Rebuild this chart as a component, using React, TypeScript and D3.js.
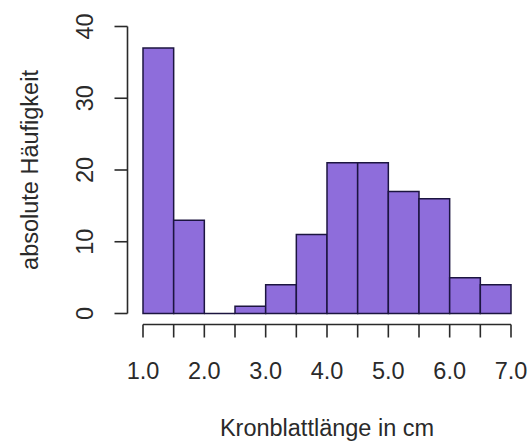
import React from "react";
import * as d3 from "d3";

const breaks = [1.0, 1.5, 2.0, 2.5, 3.0, 3.5, 4.0, 4.5, 5.0, 5.5, 6.0, 6.5, 7.0];
const counts = [37, 13, 0, 1, 4, 11, 21, 21, 17, 16, 5, 4];
const xTicks = [1.0, 1.5, 2.0, 2.5, 3.0, 3.5, 4.0, 4.5, 5.0, 5.5, 6.0, 6.5, 7.0];
const xLabels = [1, 2, 3, 4, 5, 6, 7];
const yTicks = [0, 10, 20, 30, 40];
const xTitle = "Kronblattlänge in cm";
const yTitle = "absolute Häufigkeit";

export default function App() {
  const W = 532, H = 447;
  const x = d3.scaleLinear().domain([1, 7]).range([143, 511]);
  const y = d3.scaleLinear().domain([0, 40]).range([313.5, 26.5]);
  const font = "'Liberation Sans', Arial, Helvetica, sans-serif";
  const fs = 23.5;
  const txt = "#2a2a2a";
  const axisY = 324.5;
  const axisX = 127.5;
  const tickLen = 13;
  const barPath = (i: number) => {
    const p = d3.path();
    p.rect(x(breaks[i]), y(counts[i]), x(breaks[i + 1]) - x(breaks[i]), y(0) - y(counts[i]));
    return p.toString();
  };
  return (
    <svg width={W} height={H} style={{ position: "absolute", left: 0, top: 0, background: "#fff" }}>
      {counts.map((c, i) => (
        <path
          key={i}
          d={barPath(i)}
          fill="#8e6ddb"
          stroke="#1c1540"
          strokeWidth={1.5}
        />
      ))}
      {/* x axis */}
      <line x1={x(1)} x2={x(7)} y1={axisY} y2={axisY} stroke="#2a2a2a" strokeWidth={1.6} />
      {xTicks.map((t) => (
        <line key={t} x1={x(t)} x2={x(t)} y1={axisY} y2={axisY + tickLen} stroke="#2a2a2a" strokeWidth={1.6} />
      ))}
      {xLabels.map((t) => (
        <text key={t} x={x(t)} y={379} textAnchor="middle" fontFamily={font} fontSize={fs} fill={txt}>
          {d3.format(".1f")(t)}
        </text>
      ))}
      {/* y axis */}
      <line x1={axisX} x2={axisX} y1={y(0)} y2={y(40)} stroke="#2a2a2a" strokeWidth={1.6} />
      {yTicks.map((t) => (
        <line key={t} x1={axisX - tickLen} x2={axisX} y1={y(t)} y2={y(t)} stroke="#2a2a2a" strokeWidth={1.6} />
      ))}
      {yTicks.map((t) => (
        <text
          key={t}
          transform={`translate(${93},${y(t)}) rotate(-90)`}
          textAnchor="middle"
          fontFamily={font}
          fontSize={fs}
          fill={txt}
        >
          {t}
        </text>
      ))}
      <text x={x(4)} y={435.5} textAnchor="middle" fontFamily={font} fontSize={fs} fill={txt}>
        {xTitle}
      </text>
      <text
        transform={`translate(${37.5},${y(20)}) rotate(-90)`}
        textAnchor="middle"
        fontFamily={font}
        fontSize={fs}
        fill={txt}
      >
        {yTitle}
      </text>
    </svg>
  );
}
